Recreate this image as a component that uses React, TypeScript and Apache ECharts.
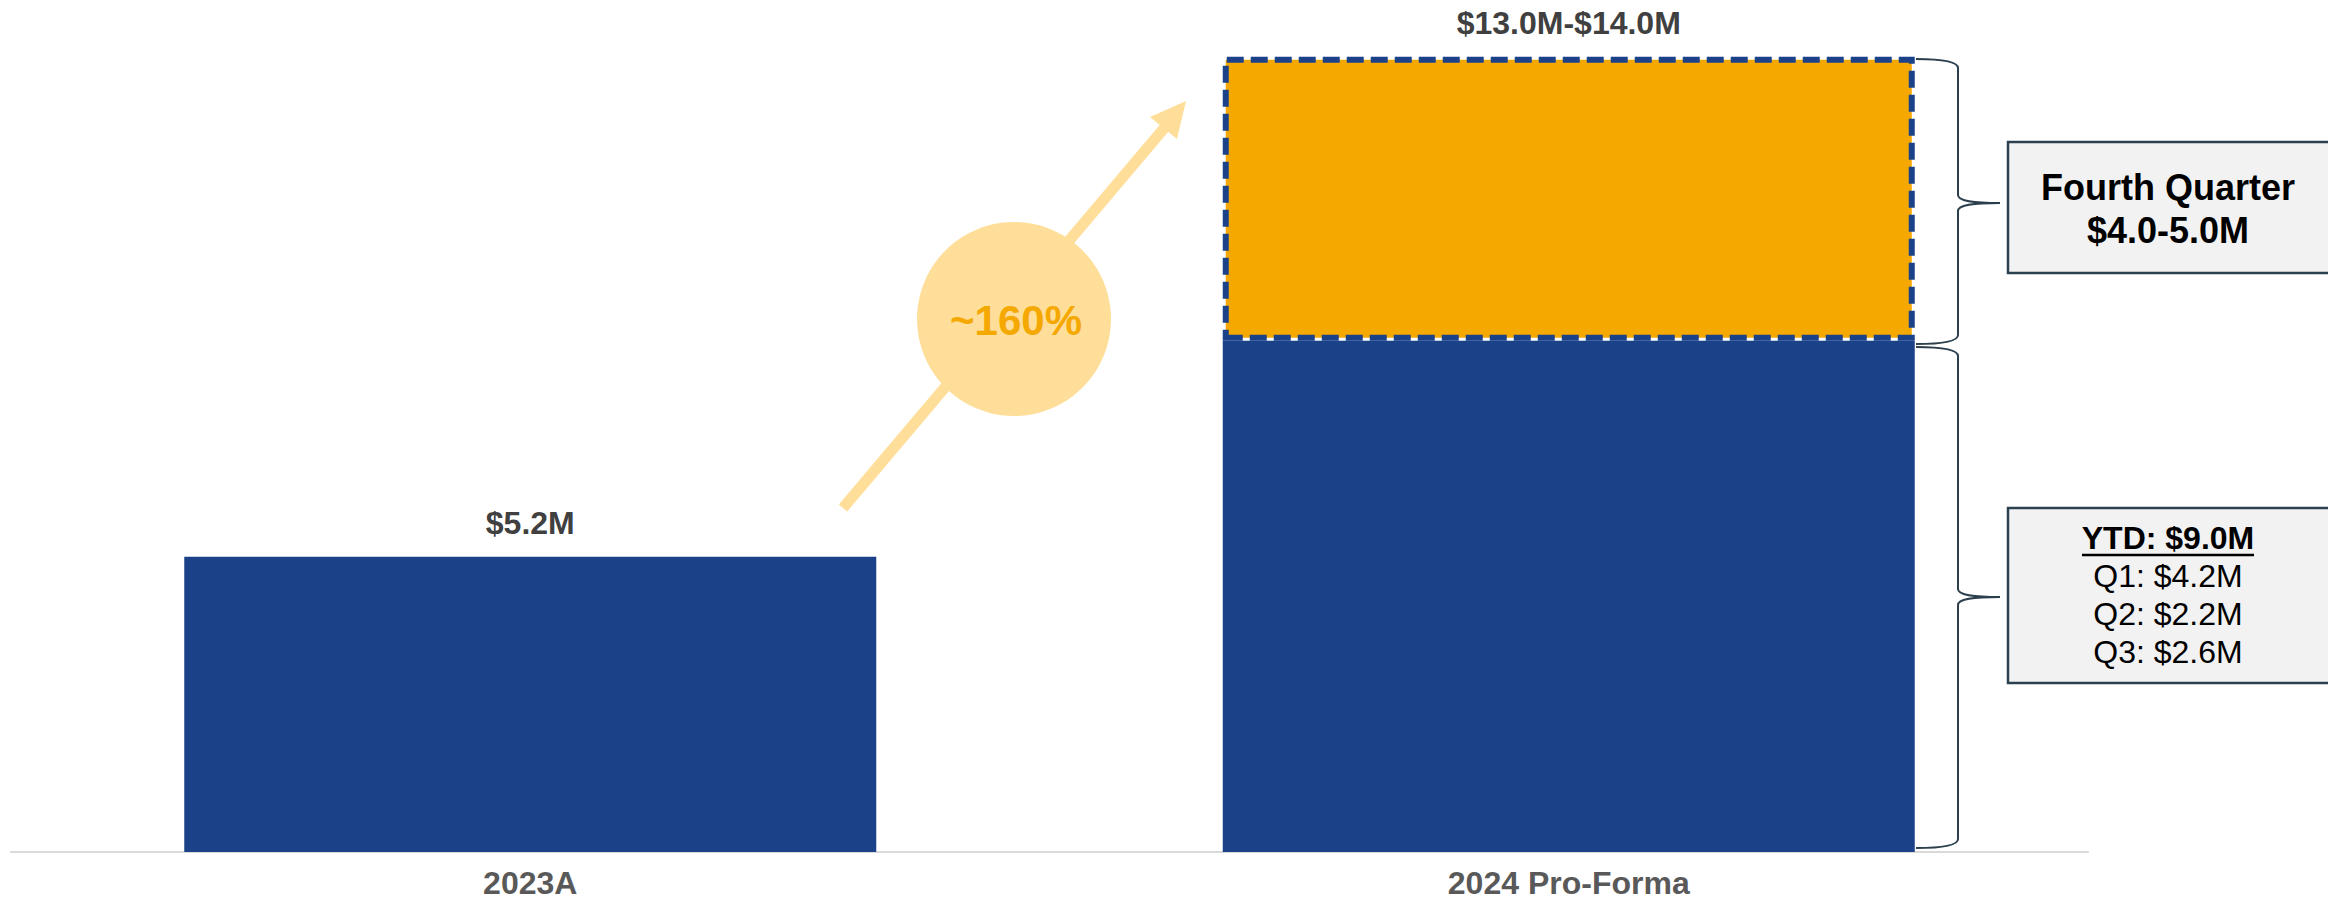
import React, { useEffect, useRef } from "react";
import * as echarts from "echarts";

// ---- Data ----
const categories = ["2023A", "2024 Pro-Forma"];
const actualValues = [5.2, 9.0]; // 2023 full year, 2024 YTD (Q1-Q3)
const fourthQuarterValues: (number | string)[] = ["-", 5.0]; // upper end of Q4 guidance
const fourthQuarterRange = [4.0, 5.0];
const totalRange = [13.0, 14.0];
const ytdTotal = 9.0;
const quarterLabels = ["Q1", "Q2", "Q3"];
const quarterValues = [4.2, 2.2, 2.6];
const growthLabel = "~160%";

// ---- Styles ----
const BLUE = "#1B4289";
const ORANGE = "#F5A800";
const LIGHT = "#FEDE99";
const BRACE = "#2B3F4C";
const FONT = "'Liberation Sans', Arial, Helvetica, sans-serif";

const fmt = (v: number) => `$${v.toFixed(1)}M`;

function brace(x0: number, xv: number, xt: number, y1: number, y2: number, ym: number) {
  const st = { stroke: BRACE, lineWidth: 2, fill: null as any };
  return [
    { type: "bezierCurve", shape: { x1: x0, y1: y1, cpx1: x0 + 29, cpy1: y1, cpx2: xv, cpy2: y1 + 3, x2: xv, y2: y1 + 9 }, style: st },
    { type: "line", shape: { x1: xv, y1: y1 + 9, x2: xv, y2: ym - 8 }, style: st },
    { type: "bezierCurve", shape: { x1: xv, y1: ym - 8, cpx1: xv, cpy1: ym - 2, cpx2: xv + 14, cpy2: ym, x2: xt, y2: ym }, style: st },
    { type: "bezierCurve", shape: { x1: xt, y1: ym, cpx1: xv + 14, cpy1: ym, cpx2: xv, cpy2: ym + 2, x2: xv, y2: ym + 8 }, style: st },
    { type: "line", shape: { x1: xv, y1: ym + 8, x2: xv, y2: y2 - 9 }, style: st },
    { type: "bezierCurve", shape: { x1: xv, y1: y2 - 9, cpx1: xv, cpy1: y2 - 3, cpx2: x0 + 29, cpy2: y2, x2: x0, y2: y2 }, style: st },
  ];
}

export default function App() {
  const ref = useRef<HTMLDivElement>(null);

  useEffect(() => {
    if (!ref.current) return;
    const chart = echarts.init(ref.current, undefined, { renderer: "svg" });

    const textCenter = (text: string, x: number, y: number, size: number, weight: string, color: string) => ({
      type: "text",
      x,
      y,
      z: 20,
      style: {
        text,
        fill: color,
        font: `${weight} ${size}px ${FONT}`,
        textAlign: "center",
        textVerticalAlign: "middle",
      },
    });

    const boxX = 2008;
    const boxW = 330;
    const cx = 2168;

    const graphic: any[] = [
      // growth arrow
      {
        type: "line",
        z: 5,
        shape: { x1: 843, y1: 508, x2: 1166, y2: 126 },
        style: { stroke: LIGHT, lineWidth: 11, lineCap: "butt" },
      },
      {
        type: "polygon",
        z: 5,
        shape: { points: [[1186, 101], [1150, 117], [1177, 139]] },
        style: { fill: LIGHT },
      },
      {
        type: "circle",
        z: 6,
        shape: { cx: 1014, cy: 319, r: 97 },
        style: { fill: LIGHT },
      },
      textCenter(growthLabel, 1016, 320, 42, "bold", ORANGE),
      // braces
      ...brace(1916, 1958, 2000, 59, 344, 203),
      ...brace(1916, 1958, 2000, 347, 848, 597),
      // Fourth quarter box
      {
        type: "rect",
        z: 10,
        shape: { x: boxX, y: 142, width: boxW, height: 131 },
        style: { fill: "#F2F2F2", stroke: "#2C4150", lineWidth: 2.5 },
      },
      textCenter("Fourth Quarter", cx, 187, 36, "bold", "#000000"),
      textCenter(`$${fourthQuarterRange[0].toFixed(1)}-${fourthQuarterRange[1].toFixed(1)}M`, cx, 230, 36, "bold", "#000000"),
      // YTD box
      {
        type: "rect",
        z: 10,
        shape: { x: boxX, y: 508, width: boxW, height: 175 },
        style: { fill: "#F2F2F2", stroke: "#2C4150", lineWidth: 2.5 },
      },
      textCenter(`YTD: ${fmt(ytdTotal)}`, cx, 538, 32, "bold", "#000000"),
      {
        type: "line",
        z: 20,
        shape: { x1: cx - 86, y1: 555, x2: cx + 86, y2: 555 },
        style: { stroke: "#000000", lineWidth: 2.5 },
      },
      ...quarterLabels.map((q, i) =>
        textCenter(`${q}: ${fmt(quarterValues[i])}`, cx, 576 + i * 38, 32, "normal", "#000000")
      ),
    ];

    chart.setOption({
      animation: false,
      backgroundColor: "#ffffff",
      grid: { left: 11, right: 240, top: 0, bottom: 51, containLabel: false },
      xAxis: {
        type: "category",
        data: categories,
        axisLine: { show: true, lineStyle: { color: "#D9D9D9", width: 2 } },
        axisTick: { show: false },
        axisLabel: {
          margin: 17,
          lineHeight: 28,
          color: "#595959",
          fontSize: 32,
          fontWeight: "bold",
          fontFamily: FONT,
        },
      },
      yAxis: {
        type: "value",
        min: 0,
        max: 15,
        show: false,
        splitLine: { show: false },
      },
      series: [
        {
          name: "Actual",
          type: "bar",
          stack: "total",
          barWidth: 692,
          data: actualValues.map((v, i) => ({
            value: v,
            label:
              i === 0
                ? {
                    show: true,
                    position: "top",
                    distance: 18,
                    formatter: fmt(v),
                    color: "#404040",
                    fontSize: 32,
                    fontWeight: "bold",
                    fontFamily: FONT,
                  }
                : { show: false },
          })),
          itemStyle: { color: BLUE },
        },
        {
          name: "Fourth Quarter",
          type: "bar",
          stack: "total",
          barWidth: 692,
          data: fourthQuarterValues,
          itemStyle: {
            color: ORANGE,
            borderColor: BLUE,
            borderWidth: 6,
            borderType: [17, 7],
          },
          label: {
            show: true,
            position: "top",
            distance: 18,
            formatter: `${fmt(totalRange[0])}-${fmt(totalRange[1])}`,
            color: "#404040",
            fontSize: 32,
            fontWeight: "bold",
            fontFamily: FONT,
          },
        },
      ],
      graphic,
    });

    return () => chart.dispose();
  }, []);

  return (
    <div
      ref={ref}
      style={{ position: "absolute", left: 0, top: 0, width: 2328, height: 903, background: "#fff" }}
    />
  );
}
